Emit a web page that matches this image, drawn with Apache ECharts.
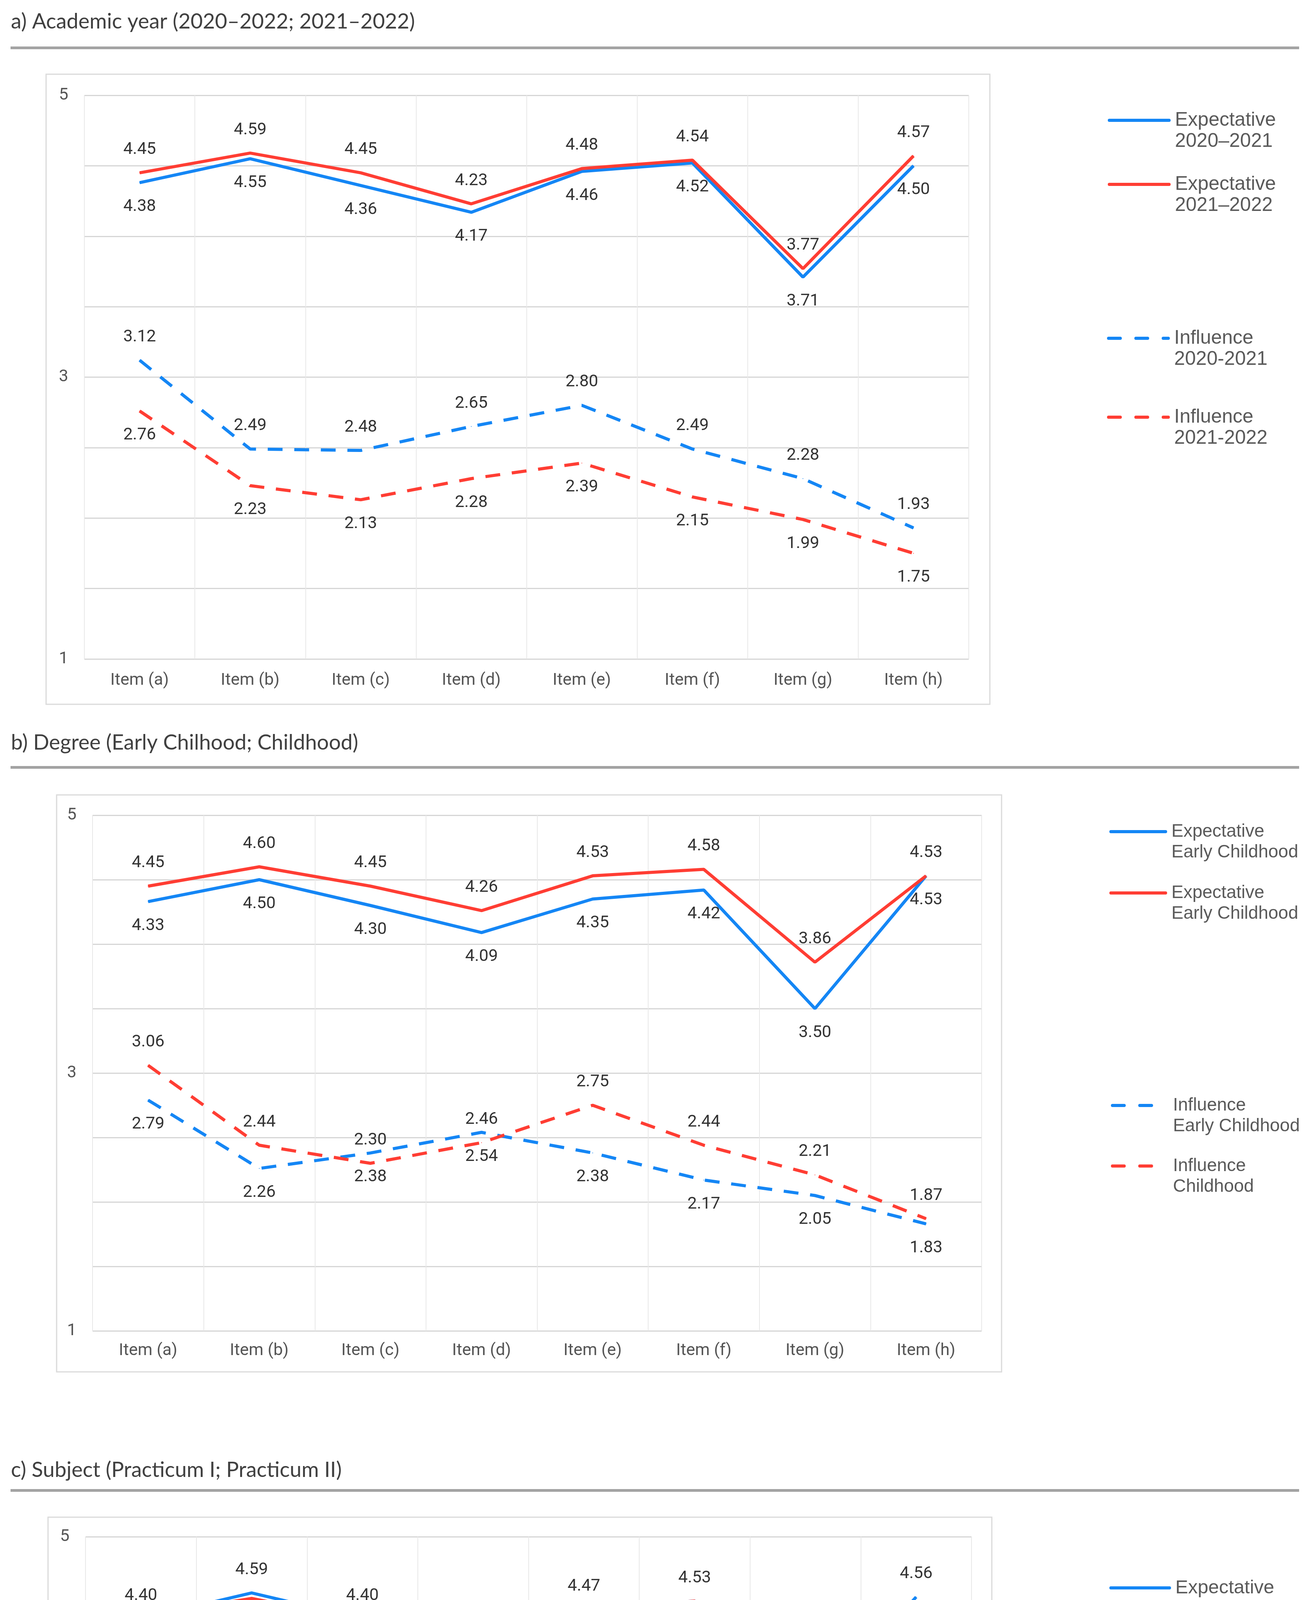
<!DOCTYPE html>
<html>
<head>
<meta charset="utf-8">
<script src="https://cdn.jsdelivr.net/npm/echarts@6/dist/echarts.min.js"></script>
<style>
html,body{margin:0;padding:0;background:#ffffff;}
#chart{width:3360px;height:5499px;}
</style>
</head>
<body>
<div id="chart"></div>
<script>
// ---------- DATA ----------
const categories = ['Item (a)', 'Item (b)', 'Item (c)', 'Item (d)', 'Item (e)', 'Item (f)', 'Item (g)', 'Item (h)'];
const yTickLabels = [1, 3, 5];

const titleA = 'a) Academic year (2020–2022; 2021–2022)';
const titleB = 'b) Degree (Early Chilhood; Childhood)';
const titleC = 'c) Subject (Practicum I; Practicum II)';

// a) Academic year
const expectative2020_2021 = [4.38, 4.55, 4.36, 4.17, 4.46, 4.52, 3.71, 4.50];
const expectative2021_2022 = [4.45, 4.59, 4.45, 4.23, 4.48, 4.54, 3.77, 4.57];
const influence2020_2021   = [3.12, 2.49, 2.48, 2.65, 2.80, 2.49, 2.28, 1.93];
const influence2021_2022   = [2.76, 2.23, 2.13, 2.28, 2.39, 2.15, 1.99, 1.75];

// b) Degree
const expectativeEarlyChildhood   = [4.33, 4.50, 4.30, 4.09, 4.35, 4.42, 3.50, 4.53];
const expectativeChildhood        = [4.45, 4.60, 4.45, 4.26, 4.53, 4.58, 3.86, 4.53];
const influenceEarlyChildhood     = [2.79, 2.26, 2.38, 2.54, 2.38, 2.17, 2.05, 1.83];
const influenceChildhood          = [3.06, 2.44, 2.30, 2.46, 2.75, 2.44, 2.21, 1.87];

// c) Subject
const expectativePracticumI  = [4.40, 4.59, 4.40, 4.14, 4.47, 4.53, 3.67, 4.56];
const expectativePracticumII = [4.42, 4.55, 4.39, 4.26, 4.47, 4.53, 3.80, 4.50];
const influencePracticumI    = [3.07, 2.55, 2.38, 2.57, 2.71, 2.39, 2.20, 1.88];
const influencePracticumII   = [2.85, 2.21, 2.28, 2.41, 2.54, 2.30, 2.11, 1.83];

// legend texts (series keys -> shown text)
const legendTexts = {
  A1: 'Expectative\n2020–2021',
  A2: 'Expectative\n2021–2022',
  A3: 'Influence\n2020-2021',
  A4: 'Influence\n2021-2022',
  B1: 'Expectative\nEarly Childhood',
  B2: 'Expectative\nEarly Childhood',
  B3: 'Influence\nEarly Childhood',
  B4: 'Influence\nChildhood',
  C1: 'Expectative\nPracticum I',
  C2: 'Expectative\nPracticum II',
  C3: 'Influencie\nPracticum I',
  C4: 'Influence\nPracticum II'
};

// ---------- STYLE ----------
const BLUE = '#1486f5';
const RED = '#ff3d33';
const DASH = [38, 30];

const panels = [
  { title: titleA, titleY: 56, ruleY: 119, frame: [118, 190, 2417, 1613],
    grid: { left: 216, top: 244, width: 2265, height: 1443 }, xMargin: 34,
    series: [
      ['A1', expectative2020_2021, BLUE, false, 'bottom'],
      ['A2', expectative2021_2022, RED, false, 'top'],
      ['A3', influence2020_2021, BLUE, true, 'top'],
      ['A4', influence2021_2022, RED, true, 'bottom']
    ],
    legend: { font: 50, lh: 54, items: [['A1', 2837, 308, 153, false], ['A2', 2837, 472, 153, false], ['A3', 2835, 866, 153, true], ['A4', 2835, 1068, 153, true]] }
  },
  { title: titleB, titleY: 1902, ruleY: 1961, frame: [145, 2035, 2420, 1477],
    grid: { left: 237, top: 2087, width: 2277, height: 1320 }, xMargin: 30,
    series: [
      ['B1', expectativeEarlyChildhood, BLUE, false, 'bottom'],
      ['B2', expectativeChildhood, RED, false, 'top'],
      ['B3', influenceEarlyChildhood, BLUE, true, 'bottom'],
      ['B4', influenceChildhood, RED, true, 'top']
    ],
    legend: { font: 46, lh: 53, items: [['B1', 2841, 2129, 140, false], ['B2', 2841, 2286, 140, false], ['B3', 2845, 2830, 140, true], ['B4', 2845, 2985, 140, true]] }
  },
  { title: titleC, titleY: 3764, ruleY: 3812, frame: [123, 3884, 2417, 1566],
    grid: { left: 219, top: 3934, width: 2269, height: 1403 }, xMargin: 34,
    series: [
      ['C1', expectativePracticumI, BLUE, false, 'top'],
      ['C2', expectativePracticumII, RED, false, 'bottom'],
      ['C3', influencePracticumI, BLUE, true, 'top'],
      ['C4', influencePracticumII, RED, true, 'bottom']
    ],
    legend: { font: 49, lh: 57, items: [['C1', 2841, 4065, 150, false], ['C2', 2841, 4238, 150, false], ['C3', 2852, 4659, 146, true], ['C4', 2840, 4840, 150, true]] }
  }
];

const grids = [], xAxes = [], yAxes = [], series = [], legends = [], graphics = [];

panels.forEach((p, gi) => {
  graphics.push({
    type: 'text', silent: true,
    style: { x: 28, y: p.titleY, text: p.title, fontFamily: 'Lato', fontSize: 54, fill: '#404040', verticalAlign: 'middle' }
  });
  graphics.push({
    type: 'rect', silent: true,
    shape: { x: 27, y: p.ruleY, width: 3300, height: 7 },
    style: { fill: '#a3a3a3' }
  });
  graphics.push({
    type: 'rect', silent: true,
    shape: { x: p.frame[0], y: p.frame[1], width: p.frame[2], height: p.frame[3] },
    style: { fill: 'none', stroke: '#dadada', lineWidth: 3 }
  });

  grids.push(Object.assign({ containLabel: false }, p.grid));

  xAxes.push({
    type: 'category', gridIndex: gi, data: categories, boundaryGap: true,
    axisLine: { show: false }, axisTick: { show: false },
    axisLabel: { fontFamily: 'Roboto', fontSize: 43, color: '#555555', margin: p.xMargin, interval: 0 },
    splitLine: { show: true, lineStyle: { color: '#e8e8e8', width: 2 } }
  });

  yAxes.push({
    type: 'value', gridIndex: gi, min: 1, max: 5, interval: 0.5,
    axisLine: { show: false }, axisTick: { show: false },
    axisLabel: {
      fontFamily: 'Roboto', fontSize: 43, color: '#555555', margin: 41,
      formatter: v => (yTickLabels.indexOf(v) >= 0 ? String(v) : '')
    },
    splitLine: { show: true, lineStyle: { color: '#d6d6d6', width: 3 } }
  });

  p.series.forEach(s => {
    const [name, data, color, dashed, pos] = s;
    series.push({
      type: 'line', name: name, xAxisIndex: gi, yAxisIndex: gi, data: data,
      symbol: 'circle', symbolSize: 2, showSymbol: true,
      itemStyle: { color: color },
      lineStyle: { color: color, width: 8, type: dashed ? DASH : 'solid' },
      label: {
        show: true, position: pos, distance: pos === 'top' ? 36 : 39,
        formatter: q => Number(q.value).toFixed(2),
        fontFamily: 'Roboto', fontSize: 43, lineHeight: 44, color: '#333333'
      },
      emphasis: { disabled: true },
      animation: false
    });
  });

  p.legend.items.forEach(it => {
    const [name, left, cy, w, dashed] = it;
    const L = p.legend.lh;
    legends.push({
      data: [name], orient: 'vertical', left: left, top: cy - 1.5 * L,
      padding: 0, itemWidth: w, itemHeight: 8, selectedMode: false,
      // a leading empty line keeps the icon level with the first text line
      formatter: n => '\n' + legendTexts[n],
      lineStyle: { width: 8, cap: 'round', type: dashed ? [30, 40] : 'solid' },
      textStyle: { fontFamily: 'Liberation Sans', fontSize: p.legend.font, lineHeight: L, color: '#5a5a5a', padding: [0, 0, 0, 10] }
    });
  });
});

const chart = echarts.init(document.getElementById('chart'), null, { renderer: 'canvas', devicePixelRatio: 1 });
chart.setOption({
  backgroundColor: '#ffffff',
  animation: false,
  grid: grids,
  xAxis: xAxes,
  yAxis: yAxes,
  legend: legends,
  series: series,
  graphic: graphics
});
</script>
</body>
</html>
